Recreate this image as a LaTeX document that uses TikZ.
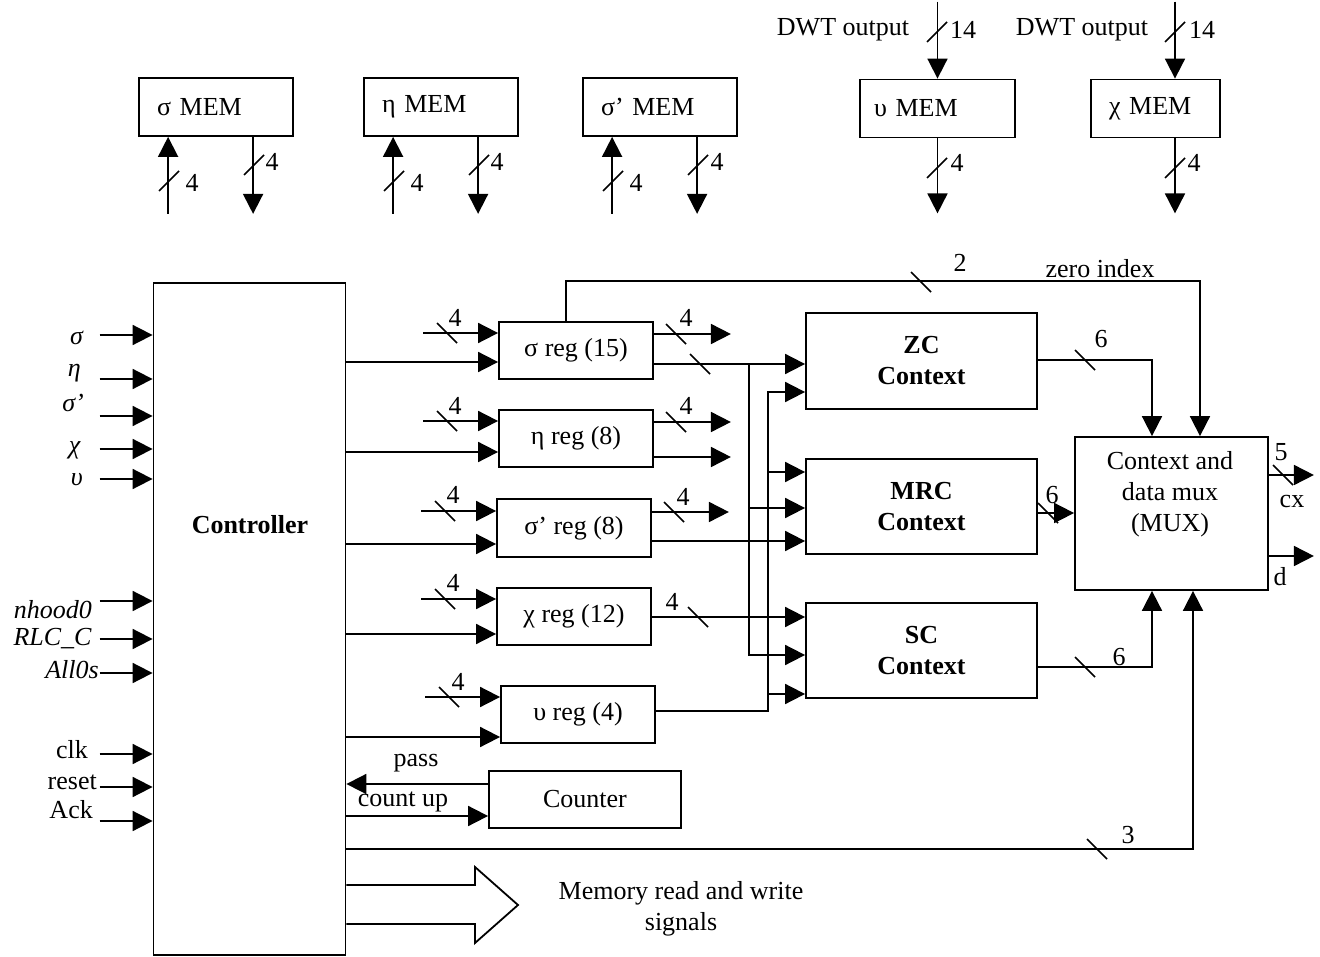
\documentclass[tikz,border=0pt]{standalone}
\usepackage{fontspec}
\setmainfont{Liberation Serif}
\usetikzlibrary{arrows.meta,calc}

\tikzset{
    box/.style={draw, line width=1.8pt, inner sep=0pt, align=center},
    mem/.style={draw, line width=1.8pt, minimum height=58pt, inner xsep=18pt, text width=#1, align=left},
    arr/.style={line width=1.8pt, -{Triangle[length=20pt,width=20pt]}},
    wire/.style={line width=1.8pt},
    hbus/.pic={\draw[line width=1.5pt] (-10,-10) -- (10,10);},
    vbus/.pic={\draw[line width=1.5pt] (-10,10) -- (10,-10);},
}

\begin{document}
\begin{tikzpicture}[x=1pt, y=-1pt, font=\fontsize{26}{31}\selectfont]
    \useasboundingbox (0,0) rectangle (1320,957);

    % memories
    \node[mem=118pt] (smem) at (216,107) {σ MEM};
    \node[mem=118pt] (hmem) at (441,107) {η MEM};
    \node[mem=118pt] (s2mem) at (660,107) {σ’ MEM};
    \node[mem=127pt, inner xsep=14pt] (umem) at (937.5,108.5) {υ MEM};
    \node[mem=93pt] (cmem) at (1155.5,108.5) {χ MEM};

    \draw[arr] ($(smem.south west)+(30,77)$) -- ($(smem.south west)+(30,0)$);
    \draw[arr] ($(smem.south west)+(115,0)$) -- ($(smem.south west)+(115,77)$);
    \draw[arr] ($(hmem.south west)+(30,77)$) -- ($(hmem.south west)+(30,0)$);
    \draw[arr] ($(hmem.south west)+(115,0)$) -- ($(hmem.south west)+(115,77)$);
    \draw[arr] ($(s2mem.south west)+(30,77)$) -- ($(s2mem.south west)+(30,0)$);
    \draw[arr] ($(s2mem.south west)+(115,0)$) -- ($(s2mem.south west)+(115,77)$);
    \draw[arr] ($(umem.north)+(0,-77)$) -- (umem.north);
    \draw[arr] (umem.south) -- ($(umem.south)+(0,75)$);
    \draw[arr] ($(cmem.north)+(19.5,-77)$) -- ($(cmem.north)+(19.5,0)$);
    \draw[arr] ($(cmem.south)+(19.5,0)$) -- ($(cmem.south)+(19.5,75)$);

    \pic at (169,181) {vbus};  \node (m1) at (192,183) {4};
    \pic at (254,165) {vbus};  \node (m2) at (272,162) {4};
    \pic at (394,181) {vbus};  \node (m3) at (417,183) {4};
    \pic at (479,165) {vbus};  \node (m4) at (497,162) {4};
    \pic at (613,181) {vbus};  \node (m5) at (636,183) {4};
    \pic at (698,165) {vbus};  \node (m6) at (717,162) {4};
    \pic at (937,168) {vbus};  \node (m7) at (957,163) {4};
    \pic at (1175,168) {vbus}; \node (m8) at (1194,163) {4};
    \pic at (937,32) {vbus};   \node (m9) at (963,30) {14};
    \pic at (1175,32) {vbus};  \node (m10) at (1202,30) {14};
    \node (dwt1) at (843,30) {DWT output};
    \node (dwt2) at (1082,30) {DWT output};

    % controller
    \node[box, minimum width=192pt, minimum height=672pt] (ctrl) at (249.5,619) {};
    \node (ctrltxt) at (250,525) {\textbf{Controller}};

    \node[anchor=east, inner sep=0pt] (isig) at (84,338) {\textit{σ}};
    \node[anchor=east, inner sep=0pt] (ieta) at (81,373) {\textit{η}};
    \node[anchor=east, inner sep=0pt] (isig2) at (84,403) {\textit{σ’}};
    \node[anchor=east, inner sep=0pt] (ichi) at (81,450) {\textit{χ}};
    \node[anchor=east, inner sep=0pt] (iups) at (83,480) {\textit{υ}};
    \node[anchor=east, inner sep=0pt] (inh) at (92,610) {\textit{nhood0}};
    \node[anchor=east, inner sep=0pt] (irlc) at (92,639) {\textit{RLC\_C}};
    \node[anchor=east, inner sep=0pt] (iall) at (99,670) {\textit{All0s}};
    \node[anchor=east, inner sep=0pt] (iclk) at (88,750) {clk};
    \node[anchor=east, inner sep=0pt] (ireset) at (97,782) {reset};
    \node[anchor=east, inner sep=0pt] (iack) at (93,810) {Ack};

    \draw[arr] ($(ctrl.west |- 0,335)+(-53,0)$) -- (ctrl.west |- 0,335);
    \draw[arr] ($(ctrl.west |- 0,379)+(-53,0)$) -- (ctrl.west |- 0,379);
    \draw[arr] ($(ctrl.west |- 0,416)+(-53,0)$) -- (ctrl.west |- 0,416);
    \draw[arr] ($(ctrl.west |- 0,449)+(-53,0)$) -- (ctrl.west |- 0,449);
    \draw[arr] ($(ctrl.west |- 0,479)+(-53,0)$) -- (ctrl.west |- 0,479);
    \draw[arr] ($(ctrl.west |- 0,601)+(-53,0)$) -- (ctrl.west |- 0,601);
    \draw[arr] ($(ctrl.west |- 0,639)+(-53,0)$) -- (ctrl.west |- 0,639);
    \draw[arr] ($(ctrl.west |- 0,673)+(-53,0)$) -- (ctrl.west |- 0,673);
    \draw[arr] ($(ctrl.west |- 0,754)+(-53,0)$) -- (ctrl.west |- 0,754);
    \draw[arr] ($(ctrl.west |- 0,787)+(-53,0)$) -- (ctrl.west |- 0,787);
    \draw[arr] ($(ctrl.west |- 0,821)+(-53,0)$) -- (ctrl.west |- 0,821);

    % registers
    \node[box, minimum width=154pt, minimum height=57pt] (sreg) at (576,350.5) {σ reg (15)};
    \node[box, minimum width=154pt, minimum height=57pt] (hreg) at (576,438.5) {η reg (8)};
    \node[box, minimum width=154pt, minimum height=58pt] (s2reg) at (574,528) {σ’ reg (8)};
    \node[box, minimum width=154pt, minimum height=57pt] (creg) at (574,616.5) {χ reg (12)};
    \node[box, minimum width=154pt, minimum height=57pt] (ureg) at (578,714.5) {υ reg (4)};
    \node[box, minimum width=192pt, minimum height=57pt] (counter) at (585,799.5) {Counter};

    \draw[arr] ($(sreg.west |- 0,333)+(-75,0)$) -- (sreg.west |- 0,333);
    \draw[arr] ($(hreg.west |- 0,421)+(-75,0)$) -- (hreg.west |- 0,421);
    \draw[arr] ($(s2reg.west |- 0,511)+(-75,0)$) -- (s2reg.west |- 0,511);
    \draw[arr] ($(creg.west |- 0,599)+(-75,0)$) -- (creg.west |- 0,599);
    \draw[arr] ($(ureg.west |- 0,697)+(-75,0)$) -- (ureg.west |- 0,697);

    \draw[arr] (ctrl.east |- 0,362) -- (sreg.west |- 0,362);
    \draw[arr] (ctrl.east |- 0,452) -- (hreg.west |- 0,452);
    \draw[arr] (ctrl.east |- 0,544) -- (s2reg.west |- 0,544);
    \draw[arr] (ctrl.east |- 0,634) -- (creg.west |- 0,634);
    \draw[arr] (ctrl.east |- 0,737) -- (ureg.west |- 0,737);
    \draw[arr] (counter.west |- 0,784) -- (ctrl.east |- 0,784);
    \draw[arr] (ctrl.east |- 0,816) -- (counter.west |- 0,816);
    \node (pass) at (416,763) {pass};
    \node (cntup) at (403,802) {count up};

    \draw[arr] (sreg.east |- 0,334) -- ($(sreg.east |- 0,334)+(77,0)$);
    \draw[arr] (hreg.east |- 0,422) -- ($(hreg.east |- 0,422)+(77,0)$);
    \draw[arr] (hreg.east |- 0,457) -- ($(hreg.east |- 0,457)+(77,0)$);
    \draw[arr] (s2reg.east |- 0,512) -- ($(s2reg.east |- 0,512)+(77,0)$);

    \pic at (447,333) {hbus}; \node (r1) at (455,318) {4};
    \pic at (676,334) {hbus}; \node (r2) at (686,318) {4};
    \pic at (700,364) {hbus};
    \pic at (447,421) {hbus}; \node (r3) at (455,406) {4};
    \pic at (676,422) {hbus}; \node (r4) at (686,406) {4};
    \pic at (445,511) {hbus}; \node (r5) at (453,495) {4};
    \pic at (674,512) {hbus}; \node (r6) at (683,497) {4};
    \pic at (445,599) {hbus}; \node (r7) at (453,583) {4};
    \pic at (698,617) {hbus}; \node (r8) at (672,602) {4};
    \pic at (449,697) {hbus}; \node (r9) at (458,682) {4};

    % contexts
    \node[box, minimum width=231pt, minimum height=96pt] (zc) at (921.5,361) {\textbf{ZC}\\\textbf{Context}};
    \node[box, minimum width=231pt, minimum height=95pt] (mrc) at (921.5,506.5) {\textbf{MRC}\\\textbf{Context}};
    \node[box, minimum width=231pt, minimum height=95pt] (sc) at (921.5,650.5) {\textbf{SC}\\\textbf{Context}};
    \node[box, minimum width=193pt, minimum height=153pt] (mux) at (1171.5,513.5) {};
    \node[align=center] (muxtxt) at (1170,494) {Context and\\data mux\\(MUX)};

    \coordinate (bus1) at (749,364);
    \coordinate (bus2) at (768,392);
    \draw[arr] (sreg.east |- bus1) -- (zc.west |- bus1);
    \draw[arr] (bus1) |- (sc.west |- 0,655);
    \draw[arr] (bus1 |- 0,508) -- (mrc.west |- 0,508);
    \draw[arr] (ureg.east |- 0,711) -| (bus2) -- (zc.west |- bus2);
    \draw[arr] (bus2 |- 0,472) -- (mrc.west |- 0,472);
    \draw[arr] (bus2 |- 0,694) -- (sc.west |- 0,694);
    \draw[arr] (s2reg.east |- 0,541) -- (mrc.west |- 0,541);
    \draw[arr] (creg.east |- 0,617) -- (sc.west |- 0,617);

    \draw[arr] (sreg.north -| 566,0) -- ++(0,-40) -| (mux.north -| 1200,0);
    \draw[arr] (zc.east |- 0,360) -| (mux.north -| 1152,0);
    \draw[arr] (mrc.east |- 0,513) -- (mux.west |- 0,513);
    \draw[arr] (sc.east |- 0,667) -| (mux.south -| 1152,0);
    \draw[arr] (ctrl.east |- 0,849) -| (mux.south -| 1193,0);
    \draw[arr] (mux.east |- 0,475) -- ($(mux.east |- 0,475)+(45,0)$);
    \draw[arr] (mux.east |- 0,556) -- ($(mux.east |- 0,556)+(45,0)$);

    \pic at (921,282) {hbus};  \node (w2) at (960,263) {2};
    \node (zidx) at (1100,269) {zero index};
    \pic at (1085,360) {hbus}; \node (w6a) at (1101,339) {6};
    \pic at (1048,513) {hbus}; \node (w6b) at (1052,495) {6};
    \pic at (1085,667) {hbus}; \node (w6c) at (1119,657) {6};
    \pic at (1097,849) {hbus}; \node (w3) at (1128,835) {3};
    \pic at (1283,475) {hbus}; \node (w5) at (1281,452) {5};
    \node (cx) at (1292,502) {cx};
    \node (d) at (1280,577) {d};

    % memory signals
    \draw[wire, line join=miter] (ctrl.east |- 0,885) -- (475,885) -- (475,867) -- (518,905)
        -- (475,943) -- (475,924) -- (ctrl.east |- 0,924);
    \node[align=center] (memsig) at (681,909) {Memory read and write\\signals};
\end{tikzpicture}
\end{document}
